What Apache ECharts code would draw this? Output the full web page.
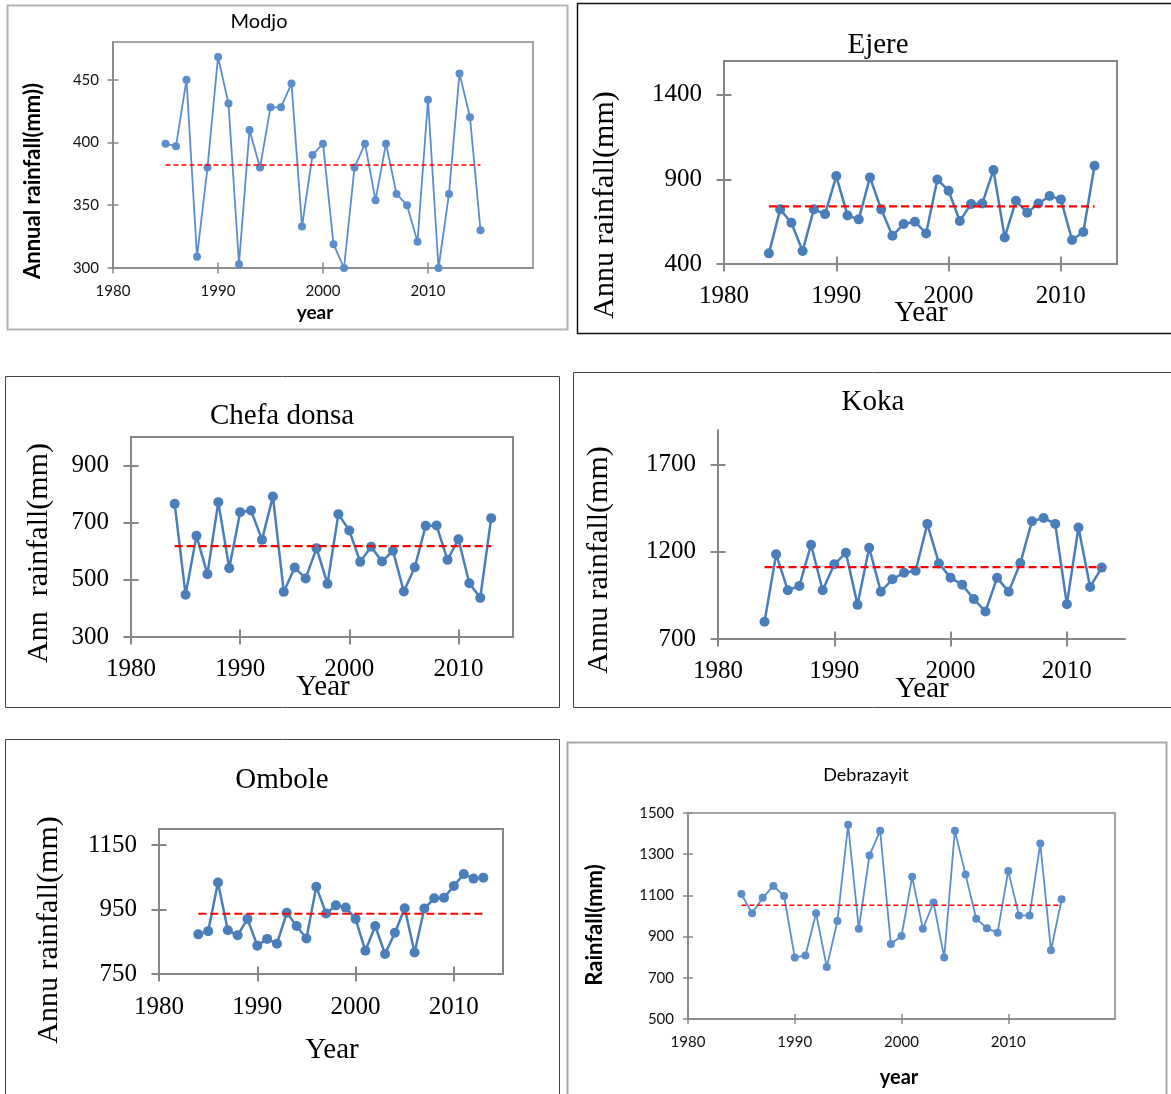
<!DOCTYPE html>
<html>
<head>
<meta charset="utf-8">
<script src="https://cdn.jsdelivr.net/npm/echarts@6/dist/echarts.min.js"></script>
<style>
  html, body { margin: 0; padding: 0; background: #fff; }
  #chart { width: 1171px; height: 1094px; }
</style>
</head>
<body>
<div id="chart"></div>
<script>
// years
const years85to15 = [1985, 1986, 1987, 1988, 1989, 1990, 1991, 1992, 1993, 1994, 1995, 1996, 1997, 1998, 1999, 2000,
  2001, 2002, 2003, 2004, 2005, 2006, 2007, 2008, 2009, 2010, 2011, 2012, 2013, 2014, 2015]
const years84to13 = [1984, 1985, 1986, 1987, 1988, 1989, 1990, 1991, 1992, 1993, 1994, 1995, 1996, 1997, 1998, 1999,
  2000, 2001, 2002, 2003, 2004, 2005, 2006, 2007, 2008, 2009, 2010, 2011, 2012, 2013]

// annual rainfall (mm) per station
const modjoRain = [399, 397, 450, 309, 380, 468, 431, 303, 410, 380, 428, 428, 447, 333, 390, 399,
  319, 300, 380, 399, 354, 399, 359, 350, 321, 434, 300, 359, 455, 420, 330]
const ejereRain = [463, 723, 644, 477, 723, 695, 920, 687, 664, 912, 723, 567, 636, 650, 581,
  900, 833, 654, 754, 758, 955, 557, 774, 703, 758, 802, 782, 542, 589, 981]
const chefaRain = [766, 448, 654, 520, 772, 541, 737, 743, 640, 792, 458, 543, 505, 611, 486,
  730, 673, 563, 616, 564, 602, 459, 544, 689, 690, 570, 642, 488, 437, 716]
const kokaRain = [799, 1186, 980, 1005, 1241, 980, 1129, 1195, 896, 1224, 972, 1043, 1081, 1092, 1361,
  1134, 1052, 1012, 929, 858, 1051, 972, 1136, 1376, 1395, 1361, 900, 1340, 999, 1110]
const omboleRain = [873, 883, 1034, 886, 870, 921, 838, 859, 844, 940, 899, 860, 1021, 938, 963,
  956, 921, 822, 899, 812, 878, 954, 817, 953, 985, 987, 1023, 1060, 1046, 1049]
const debraRain = [1107, 1013, 1088, 1146, 1097, 799, 808, 1013, 752, 976, 1443, 938, 1294, 1414, 864, 903,
  1190, 938, 1065, 799, 1414, 1201, 987, 940, 919, 1219, 1003, 1003, 1352, 834, 1081]

// long-term mean (red dashed line)
const modjoMean = 382
const ejereMean = 741
const chefaMean = 618
const kokaMean = 1113
const omboleMean = 937
const debraMean = 1052

// tick labels
const yearTicks = [1980, 1990, 2000, 2010]
const modjoTicks = [300, 350, 400, 450]
const ejereTicks = [400, 900, 1400]
const chefaTicks = [300, 500, 700, 900]
const kokaTicks = [700, 1200, 1700]
const omboleTicks = [750, 950, 1150]
const debraTicks = [500, 700, 900, 1100, 1300, 1500]

const serif = 'Liberation Serif'
const sans = 'Lato'
const axisGray = '#868686'

// layout of the six panels (pixels)
const panels = [
  { title: 'Modjo', yName: 'Annual rainfall(mm))', xName: 'year', years: years85to15, rain: modjoRain, mean: modjoMean,
    yTicks: modjoTicks, yMin: 300, yMax: 480, xMax: 2020,
    grid: { left: 113, top: 42, width: 420, height: 226 }, frame: true,
    box: [7.5, 5.5, 560, 324, '#b4b4b4', 2],
    font: sans, tickSize: 15, tickColor: '#111', tickLen: 5.5, axisW: 1.5, xMargin: 16, yMargin: 14,
    lineColor: '#5b8dcc', lineW: 1.8, sym: 8, dash: [5, 3], meanW: 1.5,
    titleAt: [259, 22], titleFont: '20px Lato', yNameAt: [33, 181], yNameFont: 'bold 22px Lato',
    xNameAt: [315, 313], xNameFont: 'bold 19px Lato' },
  { title: 'Ejere', yName: 'Annu rainfall(mm)', xName: 'Year', years: years84to13, rain: ejereRain, mean: ejereMean,
    yTicks: ejereTicks, yMin: 400, yMax: 1600, xMax: 2015,
    grid: { left: 724, top: 61, width: 393, height: 203 }, frame: true,
    box: [577.5, 3.5, 620, 330, '#111', 1.5],
    font: serif, tickSize: 25, tickColor: '#000', tickLen: 7.5, axisW: 2, xMargin: 20, yMargin: 22,
    lineColor: '#4a7ebb', lineW: 2.5, sym: 10, dash: [8, 4], meanW: 2.2,
    titleAt: [878, 45], titleFont: '29px "Liberation Serif"', yNameAt: [605, 205], yNameFont: '30px "Liberation Serif"',
    xNameAt: [921, 313], xNameFont: '29px "Liberation Serif"' },
  { title: 'Chefa donsa', yName: 'Ann  rainfall(mm)', xName: 'Year', years: years84to13, rain: chefaRain, mean: chefaMean,
    yTicks: chefaTicks, yMin: 300, yMax: 1000, xMax: 2015,
    grid: { left: 131, top: 437, width: 382, height: 200 }, frame: true,
    box: [5.5, 376.5, 554, 331, '#444', 1],
    font: serif, tickSize: 25, tickColor: '#000', tickLen: 7.5, axisW: 2, xMargin: 20, yMargin: 22,
    lineColor: '#4a7ebb', lineW: 2.5, sym: 10, dash: [8, 4], meanW: 2.2,
    titleAt: [282, 416], titleFont: '29px "Liberation Serif"', yNameAt: [39, 553], yNameFont: '30px "Liberation Serif"',
    xNameAt: [323, 687], xNameFont: '29px "Liberation Serif"' },
  { title: 'Koka', yName: 'Annu rainfall(mm)', xName: 'Year', years: years84to13, rain: kokaRain, mean: kokaMean,
    yTicks: kokaTicks, yMin: 700, yMax: 1900, xMax: 2015,
    grid: { left: 718, top: 430, width: 407, height: 209 }, frame: false,
    box: [573.5, 372.5, 620, 335, '#444', 1],
    font: serif, tickSize: 25, tickColor: '#000', tickLen: 7.5, axisW: 2, xMargin: 20, yMargin: 22,
    lineColor: '#4a7ebb', lineW: 2.5, sym: 10, dash: [8, 4], meanW: 2.2,
    titleAt: [873, 402], titleFont: '29px "Liberation Serif"', yNameAt: [599, 560], yNameFont: '30px "Liberation Serif"',
    xNameAt: [922, 689], xNameFont: '29px "Liberation Serif"' },
  { title: 'Ombole', yName: 'Annu rainfall(mm)', xName: 'Year', years: years84to13, rain: omboleRain, mean: omboleMean,
    yTicks: omboleTicks, yMin: 750, yMax: 1200, xMax: 2015,
    grid: { left: 159, top: 829, width: 344, height: 145 }, frame: true,
    box: [5.5, 739.5, 554, 400, '#444', 1],
    font: serif, tickSize: 25, tickColor: '#000', tickLen: 7.5, axisW: 2, xMargin: 21, yMargin: 22,
    lineColor: '#4a7ebb', lineW: 2.5, sym: 10, dash: [8, 4], meanW: 2.2,
    titleAt: [282, 780], titleFont: '29px "Liberation Serif"', yNameAt: [49, 930], yNameFont: '30px "Liberation Serif"',
    xNameAt: [332, 1050], xNameFont: '29px "Liberation Serif"' },
  { title: 'Debrazayit', yName: 'Rainfall(mm)', xName: 'year', years: years85to15, rain: debraRain, mean: debraMean,
    yTicks: debraTicks, yMin: 500, yMax: 1500, xMax: 2020,
    grid: { left: 688, top: 813, width: 427, height: 206 }, frame: true,
    box: [567.5, 742.5, 599, 400, '#a8a8a8', 2],
    font: sans, tickSize: 15, tickColor: '#111', tickLen: 5, axisW: 1.5, xMargin: 16, yMargin: 14,
    lineColor: '#5b8dcc', lineW: 1.8, sym: 8, dash: [5, 3], meanW: 1.5,
    titleAt: [866, 775], titleFont: '18px Lato', yNameAt: [595, 925], yNameFont: 'bold 22px Lato',
    xNameAt: [899, 1078], xNameFont: 'bold 20px Lato' }
]

const grids = []
const xAxes = []
const yAxes = []
const series = []
const graphics = []

function txt (text, at, font, rot) {
  return {
    type: 'text', x: at[0], y: at[1], rotation: rot || 0, z: 10,
    style: { text: text, font: font, fill: '#000', align: 'center', verticalAlign: 'middle',
      textAlign: 'center', textVerticalAlign: 'middle' }
  }
}

function plain (v) { return String(v) }

panels.forEach(function (p, i) {
  grids.push(Object.assign({
    show: p.frame, borderColor: axisGray, borderWidth: p.axisW, backgroundColor: 'transparent',
    outerBoundsMode: 'none', containLabel: false
  }, p.grid))

  const lab = { fontFamily: p.font, fontSize: p.tickSize, color: p.tickColor, formatter: plain }
  // two axes per direction so the ticks cross the axis line
  ;[false, true].forEach(function (inside) {
    xAxes.push({
      type: 'value', gridIndex: i, position: 'bottom', min: 1980, max: p.xMax,
      axisLine: { show: !inside, onZero: false, lineStyle: { color: axisGray, width: p.axisW } },
      axisTick: { show: true, inside: inside, length: p.tickLen, customValues: yearTicks,
        lineStyle: { color: axisGray, width: p.axisW } },
      axisLabel: Object.assign({ show: !inside, margin: p.xMargin, customValues: yearTicks }, lab),
      splitLine: { show: false }
    })
    yAxes.push({
      type: 'value', gridIndex: i, position: 'left', min: p.yMin, max: p.yMax,
      axisLine: { show: !inside, onZero: false, lineStyle: { color: axisGray, width: p.axisW } },
      axisTick: { show: true, inside: inside, length: p.tickLen, customValues: p.yTicks,
        lineStyle: { color: axisGray, width: p.axisW } },
      axisLabel: Object.assign({ show: !inside, margin: p.yMargin, customValues: p.yTicks }, lab),
      splitLine: { show: false }
    })
  })

  const ax = i * 2
  series.push({
    type: 'line', xAxisIndex: ax, yAxisIndex: ax, z: 3,
    data: p.years.map(function (y, k) { return [y, p.rain[k]] }),
    symbol: 'circle', symbolSize: p.sym, showAllSymbol: true,
    itemStyle: { color: p.lineColor },
    lineStyle: { color: p.lineColor, width: p.lineW }
  })
  series.push({
    type: 'line', xAxisIndex: ax, yAxisIndex: ax, z: 4, symbol: 'none',
    data: [[p.years[0], p.mean], [p.years[p.years.length - 1], p.mean]],
    lineStyle: { color: '#ff0000', width: p.meanW, type: p.dash }
  })

  graphics.push({
    type: 'rect', shape: { x: p.box[0], y: p.box[1], width: p.box[2], height: p.box[3] },
    style: { fill: 'none', stroke: p.box[4], lineWidth: p.box[5] }, z: 1
  })
  graphics.push(txt(p.title, p.titleAt, p.titleFont))
  graphics.push(txt(p.yName, p.yNameAt, p.yNameFont, Math.PI / 2))
  graphics.push(txt(p.xName, p.xNameAt, p.xNameFont))
})

const chart = echarts.init(document.getElementById('chart'))
chart.setOption({
  animation: false,
  backgroundColor: '#fff',
  grid: grids,
  xAxis: xAxes,
  yAxis: yAxes,
  series: series,
  graphic: graphics
})
</script>
</body>
</html>
